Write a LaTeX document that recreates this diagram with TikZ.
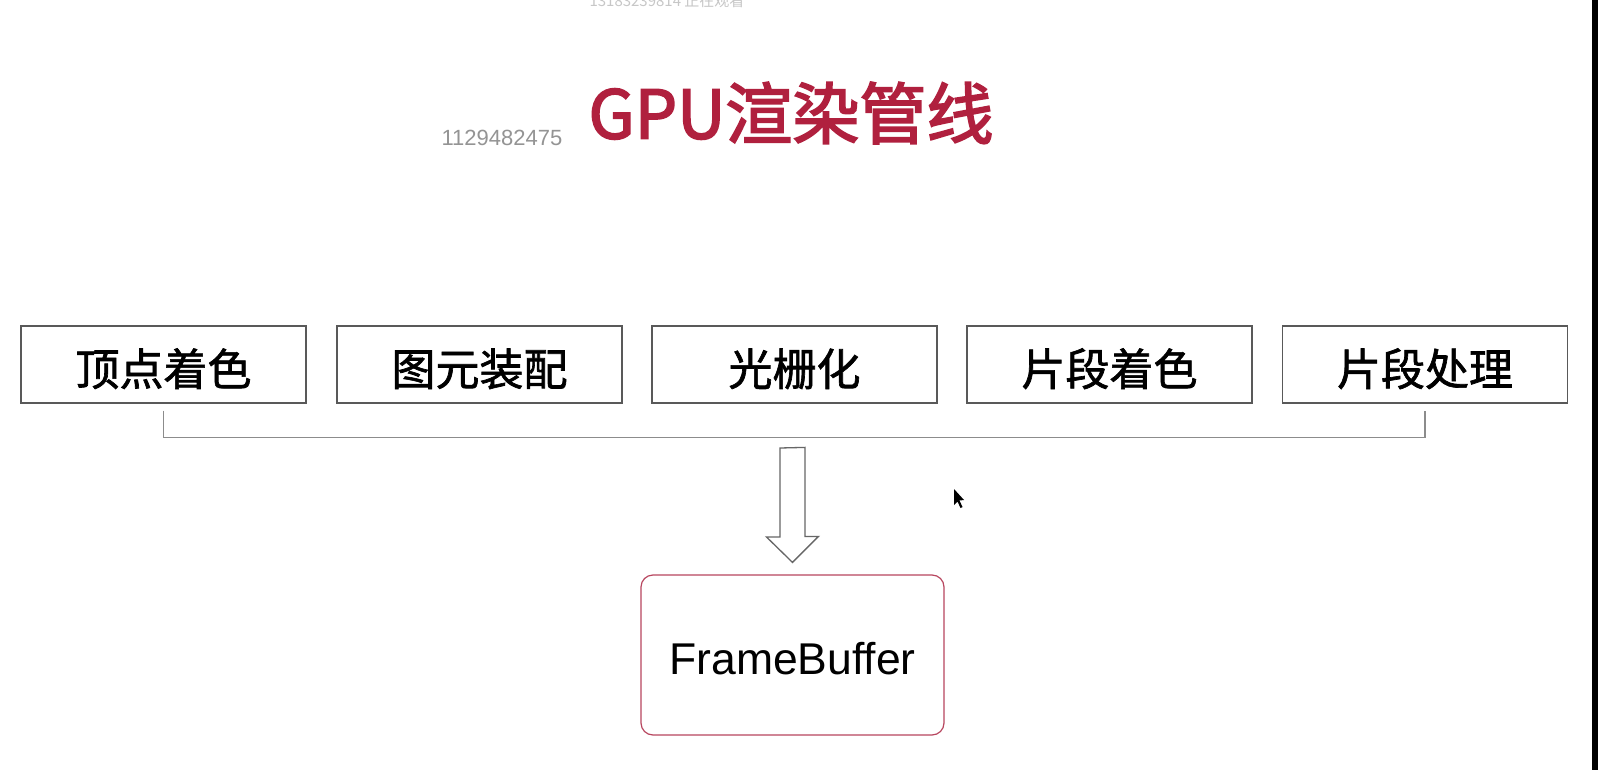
\documentclass[tikz,border=0pt]{standalone}
\usepackage{fontspec}
\setmainfont{Liberation Sans}
\newfontfamily\cjk{Noto Sans CJK SC}
\newfontfamily\cjkgrueso[FakeBold=2.6]{Noto Sans CJK SC}
\newfontfamily\cjkmedio[FakeBold=1.5]{Noto Sans CJK SC}
\definecolor{rojo_titulo}{RGB}{176,32,62}
\definecolor{rojo_borde}{RGB}{184,70,95}

\begin{document}
\begin{tikzpicture}[x=1pt,y=-1pt]
    % Estilo para las etapas
    \tikzstyle{etapa_style} = [draw=black!65, line width=1.3pt, minimum width=285pt, minimum height=77pt, inner sep=0pt, text height=42pt, text depth=0pt, font=\cjkmedio\fontsize{44}{48}\selectfont]

    % Estilo para el FrameBuffer
    \tikzstyle{buffer_style} = [draw=rojo_borde, line width=1.2pt, rounded corners=12pt, minimum width=303pt, minimum height=160pt, text height=38pt, text depth=0pt, font=\fontsize{44.5}{48}\selectfont]

    % Estilo para el corchete y la flecha
    \tikzstyle{corchete_style} = [draw=black!45, line width=1.3pt]
    \tikzstyle{flecha_style} = [draw=black!60, line width=1.3pt, fill=white, line join=miter]

    % Fondo
    \fill[white] (0,0) rectangle (1598,770);
    \useasboundingbox (0,0) rectangle (1598,770);
    \fill[black] (1592,0) rectangle (1598,770);

    % Textos de arriba
    \node[font=\cjk\fontsize{15}{16}\selectfont, text=black!22] (espectador) at (667,1) {13183239814 正在观看};
    \node[font=\cjkgrueso\fontsize{67}{70}\selectfont, text=rojo_titulo] (titulo) at (791,113) {GPU渲染管线};
    \node[font=\fontsize{22}{24}\selectfont, text=black!42] (marca) at (502,138) {1129482475};

    % Etapas del pipeline
    \node[etapa_style] (vertice) at (163.5,364.5) {顶点着色};
    \node[etapa_style] (primitiva) at (479.5,364.5) {图元装配};
    \node[etapa_style] (raster) at (794.5,364.5) {光栅化};
    \node[etapa_style] (fragmento) at (1109.5,364.5) {片段着色};
    \node[etapa_style] (proceso) at (1425,364.5) {片段处理};

    % Corchete que agrupa las etapas
    \draw[corchete_style] ([yshift=-7pt]vertice.south) -- ++(0,27) -| ([yshift=-7pt]proceso.south);

    % FrameBuffer
    \node[buffer_style] (fb) at (792.5,655) {FrameBuffer};

    % Flecha hueca hacia el FrameBuffer
    \coordinate (flecha_ini) at (792.5,448);
    \coordinate (flecha_fin) at ([yshift=12pt]fb.north);
    \draw[flecha_style] ([xshift=-12.5pt]flecha_ini) -- ++(0,89) -- ++(-13.5,0) -- (flecha_fin)
        -- ++(26,-26) -- ++(-13.5,0) -- ++(0,-89) -- cycle;

    % Puntero del raton
    \fill[black] (954,489) -- (954,505) -- (957.5,501.5) -- (960.5,508) -- (962.5,507) -- (959.5,500.5) -- (964,500) -- cycle;

\end{tikzpicture}
\end{document}
